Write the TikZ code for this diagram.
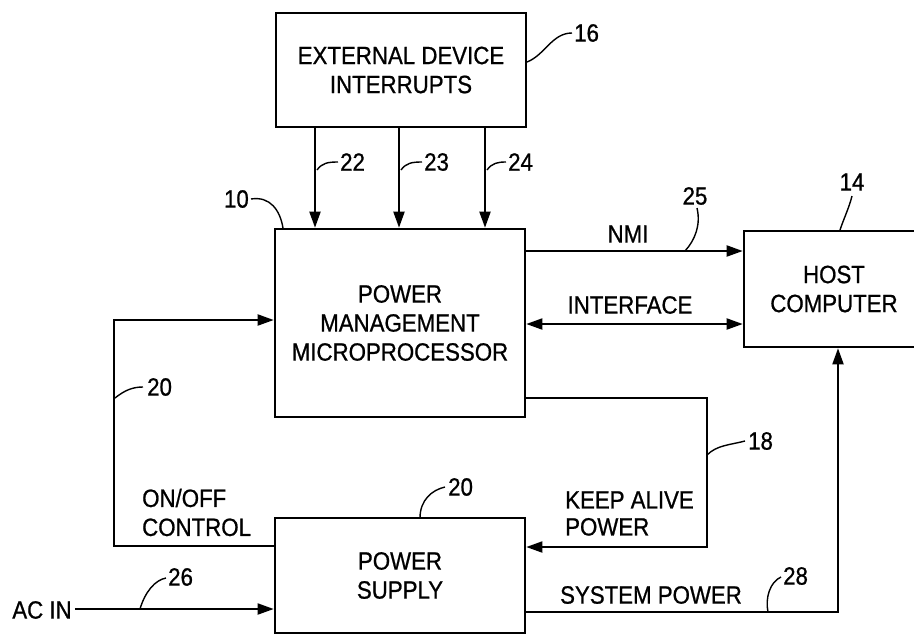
\documentclass[tikz,border=0pt]{standalone}
\usepackage{fontspec}
\setmainfont{Liberation Sans}[FakeStretch=0.89,FakeBold=0.8]
\usetikzlibrary{arrows.meta}
\tikzset{
  blk/.style={draw, line width=2.6pt, inner sep=0pt, align=center, font=\fontsize{25}{29}\selectfont},
  conn/.style={line width=1.9pt},
  arr/.style={conn, -{Triangle[length=16pt,width=11pt]}},
  dbl/.style={conn, {Triangle[length=16pt,width=11pt]}-{Triangle[length=16pt,width=11pt]}},
  leader/.style={line width=1.4pt},
  lbl/.style={inner sep=0pt, font=\fontsize{25}{29}\selectfont},
  num/.style={inner sep=0pt, anchor=west, font=\fontsize{25}{29}\selectfont},
}
\begin{document}
\begin{tikzpicture}[x=1pt,y=-1pt]
\useasboundingbox (0,0) rectangle (914,635);
\clip (0,0) rectangle (914,635);
\fill[white] (0,0) rectangle (914,635);

% boxes
\node[blk, minimum width=250pt, minimum height=114pt] (ext) at (401,70) {EXTERNAL DEVICE\\INTERRUPTS};
\node[blk, minimum width=250pt, minimum height=188pt] (pm) at (400,323) {POWER\\MANAGEMENT\\MICROPROCESSOR};
\node[blk, minimum width=180pt, minimum height=116pt] (host) at (834,289) {HOST\\COMPUTER};
\node[blk, minimum width=250pt, minimum height=115pt] (ps) at (400,575.5) {POWER\\SUPPLY};

% helper coordinates
\coordinate (x22) at (315,0);
\coordinate (x23) at (399,0);
\coordinate (x24) at (485,0);
\coordinate (ynmi) at (0,251);
\coordinate (yif) at (0,324);
\coordinate (ka1) at (707,398);
\coordinate (ka2) at (707,547);
\coordinate (sp1) at (838,612);
\coordinate (oo1) at (114,546);
\coordinate (oo2) at (114,320);

% interrupt arrows
\draw[arr] (ext.south -| x22) -- (pm.north -| x22);
\draw[arr] (ext.south -| x23) -- (pm.north -| x23);
\draw[arr] (ext.south -| x24) -- (pm.north -| x24);

% NMI and interface
\draw[arr] (pm.east |- ynmi) -- (host.west |- ynmi);
\draw[dbl] (pm.east |- yif) -- (host.west |- yif);
\node[lbl] (nmi) at (628,234) {NMI};
\node[lbl] (iface) at (630,305) {INTERFACE};

% keep alive power
\draw[arr] (pm.east |- ka1) -- (ka1) -- (ka2) -- (ps.east |- ka2);
\node[lbl, anchor=west, align=left, font=\fontsize{25}{27}\selectfont] (keep) at (565,513.5) {KEEP ALIVE\\POWER};

% system power
\draw[arr] (ps.east |- sp1) -- (sp1) -- (host.south -| sp1);
\node[lbl] (syspow) at (651,595) {SYSTEM POWER};

% on/off control
\draw[arr] (ps.west |- oo1) -- (oo1) -- (oo2) -- (pm.west |- oo2);
\node[lbl, anchor=west, align=left] (onoff) at (142,512.5) {ON/OFF\\CONTROL};

% AC in
\node[lbl, inner xsep=3pt] (acin) at (42,610) {AC IN};
\draw[arr] (acin.east |- 0,609) -- (ps.west |- 0,609);

% reference numerals with leaders
\draw[leader] (527,62) .. controls (545,55) and (552,33) .. (572,33);
\node[num] (n16) at (574,33) {16};
\draw[leader] (317,170) .. controls (322,163) and (328,162) .. (338,162);
\node[num] (n22) at (340,162) {22};
\draw[leader] (401,170) .. controls (406,163) and (412,162) .. (422,162);
\node[num] (n23) at (424,162) {23};
\draw[leader] (487,170) .. controls (492,163) and (498,162) .. (506,162);
\node[num] (n24) at (508,162) {24};
\draw[leader] (251,199) .. controls (270,196) and (280,210) .. (283,228);
\node[num, anchor=east] (n10) at (249,199) {10};
\draw[leader] (685,251) .. controls (695,240) and (701,225) .. (697,208);
\node[num, anchor=center] (n25) at (695,196) {25};
\draw[leader] (840,230) .. controls (844,218) and (849,208) .. (852,196);
\node[num, anchor=center] (n14) at (852,182) {14};
\draw[leader] (707,455) .. controls (717,445) and (730,445) .. (745,441);
\node[num] (n18) at (748,441) {18};
\draw[leader] (115,398) .. controls (125,390) and (133,387) .. (143,387);
\node[num] (n20a) at (147,387) {20};
\draw[leader] (420,518) .. controls (420,500) and (432,490) .. (445,487);
\node[num] (n20b) at (448,487) {20};
\draw[leader] (140,609) .. controls (145,592) and (155,580) .. (166,578);
\node[num] (n26) at (168,577) {26};
\draw[leader] (768,612) .. controls (765,598) and (770,582) .. (781,577);
\node[num] (n28) at (783,576) {28};
\end{tikzpicture}
\end{document}
